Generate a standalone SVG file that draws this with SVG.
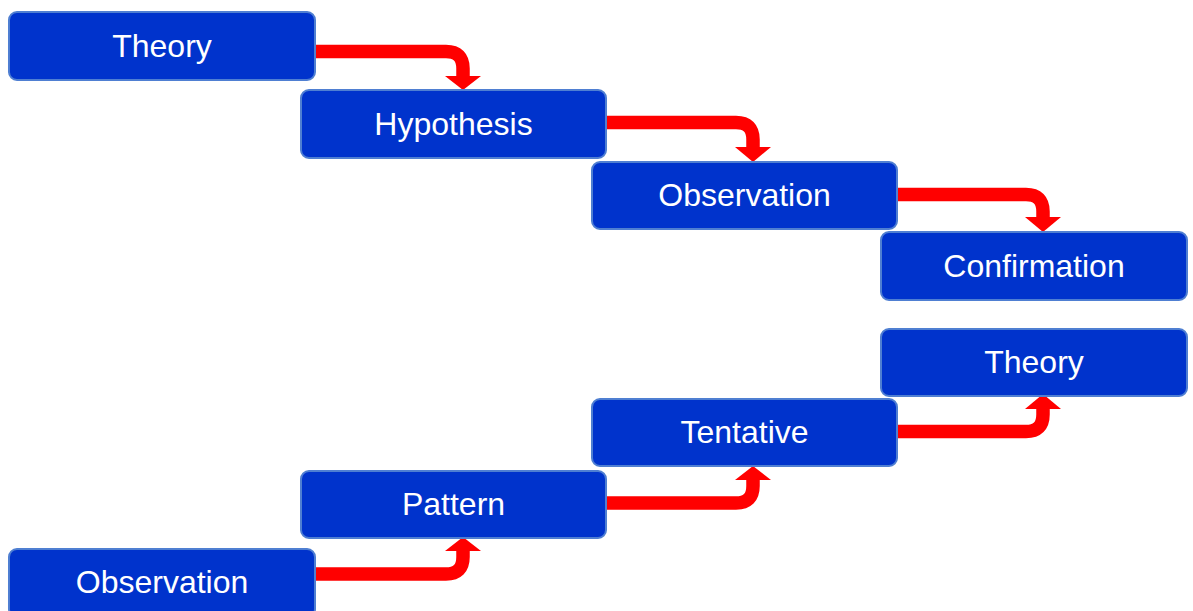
<svg xmlns="http://www.w3.org/2000/svg" width="1193" height="611" viewBox="0 0 1193 611">
  <style>
    .box { fill: #0033cc; stroke: #4f7fd2; stroke-width: 2; }
    .label { fill: #ffffff; font-family: "Liberation Sans", Arial, sans-serif; font-size: 32px; text-anchor: middle; }
    .flow { fill: none; stroke: #ff0000; stroke-width: 13.5; }
    .head { fill: #ff0000; }
  </style>
  <rect width="1193" height="611" fill="#ffffff"/>

  <!-- connectors -->
  <g id="connectors">
    <!-- top chain: stepping down -->
    <path class="flow" d="M315 51.5 H446 Q463 51.5 463 68.5 V78"/>
    <polygon class="head" points="445,76 481,76 463,90"/>
    <path class="flow" d="M606 122.5 H736 Q753 122.5 753 139.5 V149"/>
    <polygon class="head" points="735,147 771,147 753,162"/>
    <path class="flow" d="M897 194.5 H1026 Q1043 194.5 1043 211.5 V219"/>
    <polygon class="head" points="1025,217 1061,217 1043,232"/>

    <!-- bottom chain: stepping up -->
    <path class="flow" d="M315 574 H446 Q463 574 463 557 V549"/>
    <polygon class="head" points="445,551 481,551 463,537"/>
    <path class="flow" d="M606 503 H736 Q753 503 753 486 V478"/>
    <polygon class="head" points="735,480 771,480 753,466"/>
    <path class="flow" d="M897 431.5 H1026 Q1043 431.5 1043 414.5 V407"/>
    <polygon class="head" points="1025,409 1061,409 1043,394"/>
  </g>

  <!-- deductive chain -->
  <g id="theory-top">
    <rect class="box" x="9" y="12" width="306" height="68" rx="8"/>
    <text class="label" x="162" y="57">Theory</text>
  </g>
  <g id="hypothesis">
    <rect class="box" x="301" y="90" width="305" height="68" rx="8"/>
    <text class="label" x="453.5" y="135">Hypothesis</text>
  </g>
  <g id="observation-top">
    <rect class="box" x="592" y="162" width="305" height="67" rx="8"/>
    <text class="label" x="744.5" y="206">Observation</text>
  </g>
  <g id="confirmation">
    <rect class="box" x="881" y="232" width="306" height="68" rx="8"/>
    <text class="label" x="1034" y="277">Confirmation</text>
  </g>

  <!-- inductive chain -->
  <g id="theory-bottom">
    <rect class="box" x="881" y="329" width="306" height="67" rx="8"/>
    <text class="label" x="1034" y="373">Theory</text>
  </g>
  <g id="tentative">
    <rect class="box" x="592" y="399" width="305" height="67" rx="8"/>
    <text class="label" x="744.5" y="443">Tentative</text>
  </g>
  <g id="pattern">
    <rect class="box" x="301" y="471" width="305" height="67" rx="8"/>
    <text class="label" x="453.5" y="515">Pattern</text>
  </g>
  <g id="observation-bottom">
    <rect class="box" x="9" y="549" width="306" height="68" rx="8"/>
    <text class="label" x="162" y="593">Observation</text>
  </g>
</svg>
